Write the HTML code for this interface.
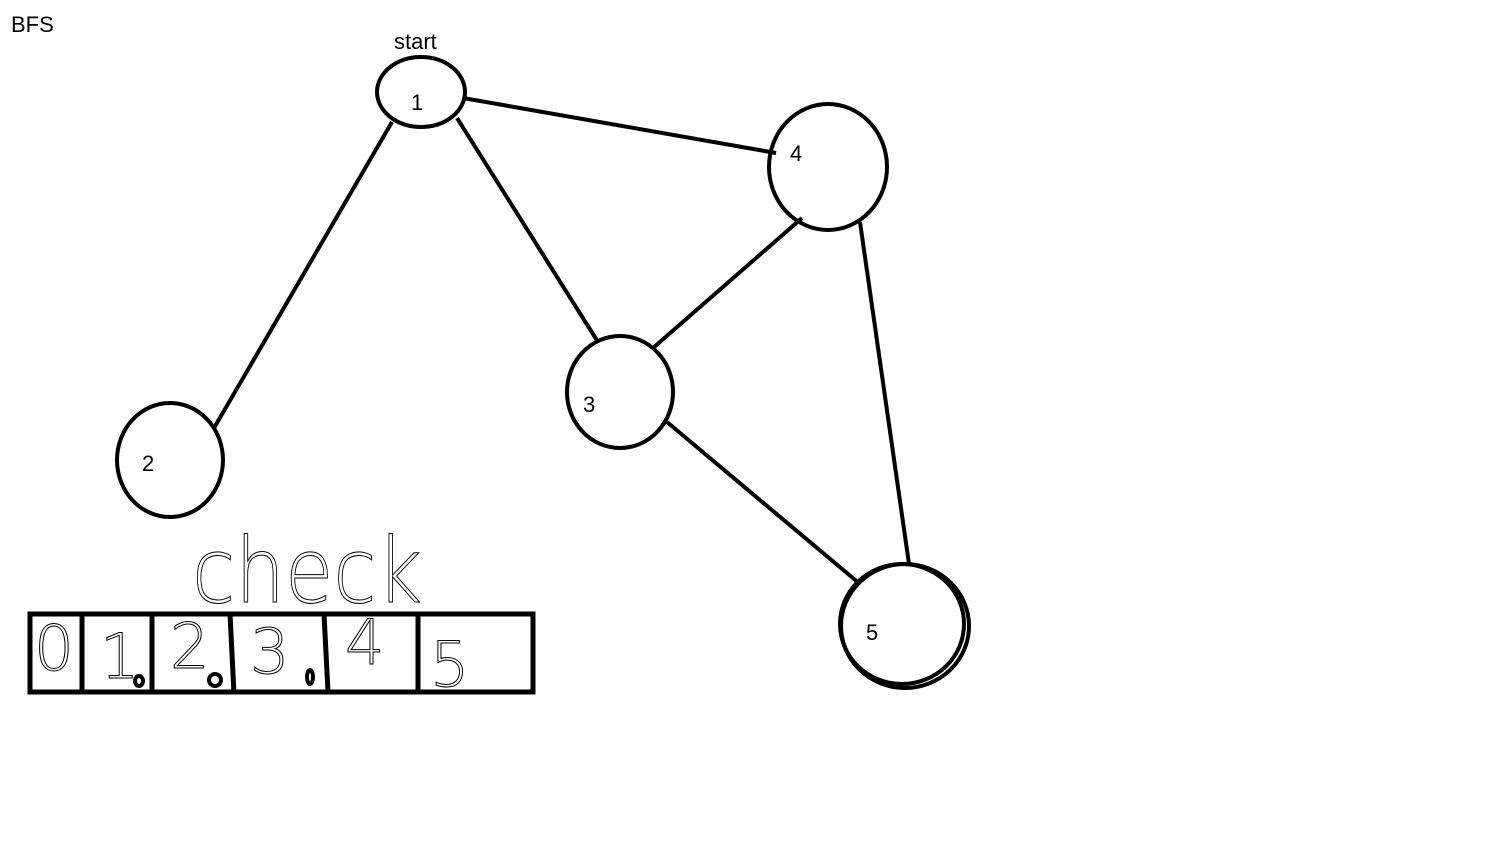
<!DOCTYPE html>
<html><head><style>body{margin:0;background:#fff;width:1490px;height:843px;overflow:hidden}</style></head><body>
<svg width="1490" height="843" xmlns="http://www.w3.org/2000/svg" style="position:absolute;left:0;top:0">
<g font-family="Liberation Sans, sans-serif" font-size="22" fill="#000">
<text x="11" y="32">BFS</text>
<text x="394" y="49">start</text>
<text x="411" y="110">1</text>
<text x="790" y="161">4</text>
<text x="583" y="412">3</text>
<text x="142" y="471">2</text>
<text x="866" y="640">5</text>
</g>
<g stroke="#000" stroke-width="4" fill="none">
<ellipse cx="421" cy="92" rx="44" ry="35"/>
<ellipse cx="828" cy="167" rx="59" ry="63"/>
<ellipse cx="620" cy="392" rx="53" ry="56"/>
<ellipse cx="170" cy="460" rx="53" ry="57"/>
<ellipse cx="905" cy="626" rx="64" ry="62"/>
<ellipse cx="902" cy="624" rx="62" ry="60"/>
<line x1="463" y1="98" x2="776" y2="153"/>
<line x1="392" y1="122" x2="214" y2="428"/>
<line x1="457" y1="118" x2="598" y2="342"/>
<line x1="802" y1="218" x2="653" y2="348"/>
<line x1="860" y1="222" x2="909" y2="564"/>
<line x1="667" y1="422" x2="860" y2="584"/>
<rect x="30" y="614" width="503" height="78" stroke-width="5"/>
<line x1="82" y1="614" x2="82" y2="694" stroke-width="5"/>
<line x1="152" y1="614" x2="152" y2="694" stroke-width="5"/>
<line x1="230" y1="614" x2="234" y2="694" stroke-width="5"/>
<line x1="324" y1="614" x2="328" y2="692" stroke-width="5"/>
<line x1="418" y1="614" x2="418" y2="692" stroke-width="5"/>
<ellipse cx="139" cy="681" rx="4" ry="5"/>
<ellipse cx="215" cy="680" rx="6" ry="6"/>
<ellipse cx="310" cy="677" rx="3" ry="7"/>
</g>
<g font-family="DejaVu Sans, sans-serif" font-weight="100" fill="none" stroke="#000" stroke-width="1" font-size="62">
<text x="34" y="670" textLength="40" lengthAdjust="spacingAndGlyphs">0</text>
<text x="100" y="678">1</text>
<text x="170" y="668">2</text>
<text x="250" y="673">3</text>
<text x="345" y="664">4</text>
<text x="430" y="686">5</text>
<text x="192" y="602" font-size="90" textLength="230" lengthAdjust="spacingAndGlyphs">check</text>
</g>
</svg>
</body></html>
